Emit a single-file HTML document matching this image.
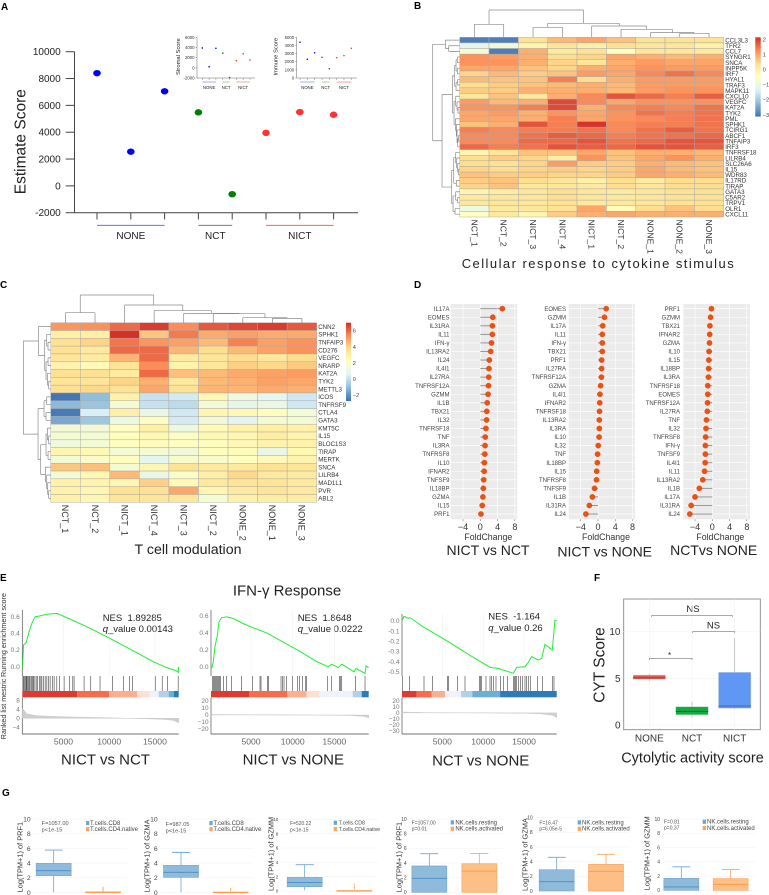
<!DOCTYPE html>
<html lang="en">
<head>
<meta charset="utf-8">
<title>Multi-panel figure</title>
<style>
html,body{margin:0;padding:0;background:#fff;}
#figure{position:absolute;left:0;top:0;width:769px;height:895px;overflow:hidden;font-family:"Liberation Sans",sans-serif;filter:blur(0.35px);}
text{font-family:"Liberation Sans",sans-serif;}
.letter{font-size:10px;font-weight:bold;fill:#000;}
.big{fill:#222;}
</style>
</head>
<body>
<svg id="figure" xmlns="http://www.w3.org/2000/svg" width="769" height="895" viewBox="0 0 769 895">
  <rect x="0" y="0" width="769" height="895" fill="#fff"/>

  <g id="panelA">
    <text class="letter" x="1" y="10">A</text>
    <text class="big" font-size="15.5" text-anchor="middle" transform="translate(25.5 141.7) rotate(-90)">Estimate Score</text>
    <text class="big" font-size="5.8" fill="#333" text-anchor="middle" transform="translate(179.8 56.7) rotate(-90)">Stromal Score</text>
    <text class="big" font-size="5.8" fill="#333" text-anchor="middle" transform="translate(277.5 56.7) rotate(-90)">Immune Score</text>
  </g>

  <g id="panelB">
    <text class="letter" x="414" y="9">B</text>
    <text class="big" font-size="13" text-anchor="middle" x="597.7" y="268" textLength="272">Cellular response to cytokine stimulus</text>
  </g>

  <g id="panelC">
    <text class="letter" x="0" y="288">C</text>
    <text class="big" font-size="14.2" text-anchor="middle" x="188" y="554">T cell modulation</text>
  </g>

  <g id="panelD">
    <text class="letter" x="414" y="288">D</text>
    <text class="big" font-size="14" text-anchor="middle" x="488" y="555">NICT vs NCT</text>
    <text class="big" font-size="14" text-anchor="middle" x="604.7" y="556.7">NICT vs NONE</text>
    <text class="big" font-size="14" text-anchor="middle" x="713.7" y="555">NCTvs NONE</text>
  </g>

  <g id="panelE">
    <text class="letter" x="0" y="581">E</text>
    <text class="big" font-size="15" text-anchor="middle" x="287" y="595.7">IFN-γ Response</text>
    <text font-size="7.2" fill="#333" text-anchor="middle" transform="translate(6 635) rotate(-90)">Running enrichment score</text>
    <text font-size="7.2" fill="#333" text-anchor="middle" transform="translate(6 709) rotate(-90)">Ranked list mestric</text>
    <text class="big" font-size="15" text-anchor="middle" x="105.5" y="764.5">NICT vs NCT</text>
    <text class="big" font-size="15" text-anchor="middle" x="293.3" y="764.5">NICT vs NONE</text>
    <text class="big" font-size="15" text-anchor="middle" x="480.7" y="765.7">NCT vs NONE</text>
    <text class="big" font-size="9.5" x="102.7" y="621" xml:space="preserve">NES  1.89285</text>
    <text class="big" font-size="9.5" x="102.7" y="632"><tspan font-style="italic">q</tspan>_value 0.00143</text>
    <text class="big" font-size="9.5" x="297.7" y="621" xml:space="preserve">NES  1.8648</text>
    <text class="big" font-size="9.5" x="297.7" y="632"><tspan font-style="italic">q</tspan>_value 0.0222</text>
    <text class="big" font-size="9.5" x="488.3" y="619.7" xml:space="preserve">NES  -1.164</text>
    <text class="big" font-size="9.5" x="488.3" y="631"><tspan font-style="italic">q</tspan>_value 0.26</text>
  </g>

  <g id="panelF">
    <text class="letter" x="594" y="581">F</text>
    <text class="big" font-size="15.5" text-anchor="middle" transform="translate(604.5 665) rotate(-90)">CYT Score</text>
    <text class="big" font-size="14.5" text-anchor="middle" x="692.5" y="762.5">Cytolytic activity score</text>
    <text class="big" font-size="9.5" text-anchor="middle" x="693" y="612">NS</text>
    <text class="big" font-size="9.5" text-anchor="middle" x="713.5" y="628.5">NS</text>
    <text class="big" font-size="8" text-anchor="middle" x="669.5" y="658">*</text>
  </g>

  <g id="panelG">
    <text class="letter" x="2" y="796">G</text>
  </g>
</svg>

<script>
/* ---------- Panel A data ---------- */
const estimateValues = [8400, 2550, 7050, 5480, -620, 3950, 5500, 5300];
const stromalValues = [3900, 200, 3850, 2900, -1900, 1400, 2750, 1550];
const immuneValues = [4400, 2300, 3100, 2550, 1150, 2500, 2750, 3650];
const sampleGroups = ['NONE', 'NONE', 'NONE', 'NCT', 'NCT', 'NICT', 'NICT', 'NICT'];
const estimateTicks = [10000, 8000, 6000, 4000, 2000, 0, -2000];
const stromalTicks = [6000, 4000, 2000, 0, -2000];
const immuneTicks = [5000, 4000, 3000, 2000, 1000, 0];
const groupNames = ['NONE', 'NCT', 'NICT'];

/* ---------- Panel B data ---------- */
const bRows = ['CCL3L3','TFR2','CCL7','SYNGR1','SNCA','INPP5K','IRF7','HYAL1','TRAF3','MAPK11','CXCL10','VEGFC','KAT2A','TYK2','PML','SPHK1','TCIRG1','ABCF1','TNFAIP3','IRF3','TNFRSF18','LILRB4','SLC26A6','IL15','WDR83','IL17RD','TIRAP','GATA3','C5AR2','TRPV1','OLR1','CXCL11'];
const bCols = ['NCT_1','NCT_2','NICT_3','NICT_4','NICT_1','NICT_2','NONE_1','NONE_2','NONE_3'];
const bValues = [
[-3,-3,.3,.8,1,.7,.3,.3,.3],
[-1.2,-.9,-.2,.2,-.1,.3,.2,.2,-.1],
[-.8,-3,.9,.1,.3,-.5,.2,.2,.1],
[1.2,1.1,.9,.4,.5,1,.9,.8,.9],
[1.2,1.2,.9,.5,.2,.9,1.1,1,1],
[1,1,.7,.5,.9,1,1.2,1.1,1.1],
[.5,.8,.6,.7,1.1,1,1.3,1.5,1.3],
[.8,.7,.7,1.4,.4,.9,1.1,1.1,1.1],
[.4,.6,.7,.8,.9,.8,1.1,1.1,1.1],
[.6,.6,.9,.9,.9,.8,1.1,1.2,1.2],
[.2,.7,.1,.9,1.3,1.8,1.6,1.4,1.7],
[1.1,.8,.9,1.9,1.3,1,1.2,1.2,1.2],
[1.2,1.2,1.4,1.9,.9,1.3,1.4,1.3,1.5],
[1,1.1,.9,1.2,1,1.2,1.5,1.4,1.5],
[1,1,.9,1.4,1,1.2,1.3,1.4,1.5],
[.7,.9,1.8,1.4,2.1,1.3,1.4,1.4,1.5],
[1.4,1.3,1.4,1.4,1.5,1.3,1.5,1.7,1.5],
[1.3,1.3,1.5,1.7,1.6,1.4,1.5,1.5,1.6],
[1.3,1.3,1.6,1.6,1.8,1.5,1.6,1.8,1.8],
[1.6,1.4,1.5,1.8,1.7,1.6,1.8,1.8,1.7],
[-.2,.2,.7,.7,1,.7,.9,.9,.8],
[.4,.6,.5,0,1.2,.7,1,1.2,.9],
[.4,.3,.5,1.1,.6,.6,.9,.8,.7],
[.5,.4,.5,.6,.5,.6,1,.8,.7],
[.7,.6,.6,.5,.5,.6,1,.9,.8],
[.6,.7,.4,.2,-.1,.4,0,.4,.4],
[.5,.7,.2,.2,.1,.4,.2,.4,.4],
[-.2,0,.2,.4,.2,.1,.2,.3,.3],
[.1,.2,.2,.4,.2,.1,.2,.3,.3],
[.2,.2,.2,.3,.1,.2,.2,.3,.3],
[-1,.1,.2,.3,1,-.4,.4,.7,.4],
[-.5,.1,-.2,.6,.9,1,.9,.9,.9]];
const bScaleTicks = [2, 1, 0, -1, -2, -3];
const bColTree = [82,[39,0,1],[42,[30,2,3],[34,4,[24,5,[14,6,[12,7,8]]]]]];
const bRowTree = [81,[43,0,[33,1,2]],[53,
  [22,[15,[11,[7,3,4],[7,5,6]],[11,[6,7,8],9]],[17,[12,10,[8,11,[5,12,13]]],[13,14,[10,15,[8,16,[6,[4,17,18],19]]]]]],
  [24,[18,[12,20,[9,21,[6,22,[4,23,24]]]],[10,25,26]],[20,[12,27,[6,28,29]],[14,30,31]]]]];

/* ---------- Panel C data ---------- */
const cRows = ['CNN2','SPHK1','TNFAIP3','CD276','VEGFC','NRARP','KAT2A','TYK2','METTL3','ICOS','TNFRSF9','CTLA4','GATA3','KMT5C','IL15','BLOC1S3','TIRAP','MERTK','SNCA','LILRB4','MAD1L1','PVR','ABL2'];
const cCols = ['NCT_1','NCT_2','NICT_1','NICT_4','NICT_3','NICT_2','NONE_2','NONE_1','NONE_3'];
const cValues = [
[5.2,5.3,6,6.8,5.4,6.3,6.6,6.8,6.3],
[3,3,7,4.3,5.7,4.8,5,4.8,4.8],
[3.7,4,5.8,5.2,5,4.5,5.6,5,5.3],
[3.7,3.3,6,6,4.6,3.8,4.5,5,5.3],
[3.5,3.2,4.6,6,3.2,3.5,3.8,3.3,3.8],
[2.7,2.4,3.5,5.4,2.8,3.4,4.1,3.9,4.2],
[3.7,3.7,3.2,6,4.4,4.5,4.8,5,5.1],
[3.5,3.5,4,4.7,3.3,4.5,4.7,5,4.9],
[3.7,3.9,3.6,4.9,3.6,4.6,4.6,4.8,4.7],
[-2.7,-1.1,2.9,0,.3,2.5,1.3,.8,.2],
[-1.2,-.9,1.6,0,-.2,1.5,.9,1.1,.2],
[-2.6,.4,3,1,.2,2.6,2.5,2.2,1.5],
[-1.6,-.8,1.2,2,.3,1.4,.7,1.6,1.5],
[1.4,1.4,2.2,3,1.2,2.4,2.9,3,2.9],
[1.6,1.6,2.2,2.5,2,2.5,2.6,3.1,2.7],
[1.3,1.5,2.2,2.3,2.1,2.2,2.5,2.8,2.8],
[2.6,2.5,1.5,1.6,1.4,2.2,2.3,1,2.5],
[1.5,1.8,2.2,.8,1.8,1.8,2.1,2.4,2.7],
[4.3,4.4,1.6,2.6,3.6,3.3,3.3,3.7,3.5],
[1.5,2.5,4.5,1,1.9,3,3.9,3.3,3.2],
[2.8,2.7,2.6,4.1,2.4,3.3,3.5,3.5,3.3],
[2.9,2.6,3.7,3.7,4.9,2.6,3.2,3.5,3.3],
[2.9,2.6,3.5,3.5,3.4,1.6,2.9,3.1,3.1]];
const cScaleTicks = [6, 4, 2, 0, -2];
const cColTree = [83,[30,0,1],[53,2,[36,3,[28,4,[27,5,[15,6,[13,7,8]]]]]]];
const cRowTree = [82,[37,0,[18,[12,1,[8,2,3]],[14,[8,4,5],[10,6,[6,7,8]]]]],[38,[20,[12,9,10],[14,11,12]],[30,[14,[10,13,[6,14,15]],[8,16,17]],[16,18,[12,19,[9,20,[6,21,22]]]]]]];

/* ---------- Panel D data ---------- */
const dGenes1 = ['IL17A','EOMES','IL31RA','IL11','IFN-γ','IL13RA2','IL24','IL4I1','IL27RA','TNFRSF12A','GZMM','IL1B','TBX21','IL32','TNFRSF18','TNF','IL3RA','TNFRSF8','IL10','IFNAR2','TNFSF9','IL18BP','GZMA','IL15','PRF1'];
const dFold1 = [5.1,2.9,2.8,2.8,2.6,2.4,2.1,2,1.95,1.9,1.8,1.6,1.5,1.45,1.3,1.15,1.1,1.05,.95,.9,.8,.7,.6,.45,.15];
const dGenes2 = ['EOMES','GZMM','IL17A','IL11','IFN-γ','TBX21','PRF1','IL27RA','TNFRSF12A','GZMA','IL4I1','IFNAR2','TNFRSF18','IL13RA2','IL3RA','IL10','IL32','TNF','IL18BP','IL15','TNFRSF8','TNFSF9','IL1B','IL31RA','IL24'];
const dFold2 = [1.9,1.5,1.1,1,1,1,.85,.85,.8,.6,.45,.4,.35,.3,.3,.25,.05,-.1,-.15,-.3,-.35,-.8,-1.3,-2,-2.8];
const dGenes3 = ['PRF1','GZMM','TBX21','IFNAR2','GZMA','IL10','IL15','IL18BP','IL3RA','TNFRSF18','EOMES','TNFRSF12A','IL27RA','TNF','IL32','TNFRSF8','IFN-γ','TNFSF9','IL4I1','IL11','IL13RA2','IL1B','IL17A','IL31RA','IL24'];
const dFold3 = [-.2,-.4,-.55,-.6,-.65,-.75,-.8,-.85,-.9,-1.05,-1.05,-1.1,-1.15,-1.35,-1.45,-1.55,-1.6,-1.6,-1.65,-1.8,-2.2,-3,-4,-4.9,-5.2];
const dTicks = [-4, 0, 4, 8];

/* ---------- Panel E data ---------- */
const es1Ranks = [527,636,927,1290,1618,1909,2454,3181,4272,5545,7545,9727,12636,14818,16272,17363,17560,17600];
const es1Values = [0,.26,.29,.44,.54,.6,.61,.63,.64,.58,.48,.36,.19,.06,-.01,-.05,-.07,0];
const es1Hits = [564,636,709,818,927,1000,1109,1218,1290,1436,1545,1654,1727,1872,2018,2163,2381,2527,2636,2818,3000,3181,3363,3545,3800,3981,4272,4563,5072,5654,6018,6163,7254,7981,9000,10381,11545,12200,12563,15036,15800,16381,17545];
const es1MetricRanks = [500,1000,2000,3500,6000,10000,14000,16000,17000,17600];
const es1Metric = [4.5,2,1.2,.9,.6,.25,-.2,-.5,-.9,-2];
const es2Ranks = [280,480,680,960,1160,1480,2080,2880,4080,5280,6880,8880,10880,12880,14280,14680,15480,15880,17360,17600,18680,18800,19120];
const es2Values = [-.02,.06,.24,.37,.53,.58,.59,.57,.51,.46,.4,.29,.18,.06,0,.03,-.01,.03,-.06,-.02,-.08,.01,-.01];
const es2Hits = [360,480,600,720,840,960,1080,1200,1360,1680,2080,2680,3880,5160,6080,6200,6960,7120,8600,8800,8960,9280,10000,10600,10800,11160,11560,11680,14200,14680,15600,15760,15880,17520,18680];
const es2MetricRanks = [200,3000,10000,15000,17000,18500,19120];
const es2Metric = [.8,.5,.1,-.3,-.8,-2,-4];
const es3Ranks = [102,306,836,1040,2672,5528,7976,10833,11853,13688,14096,15116,15524,15932,16748,17156,17564,18462,18666,18788,19000];
const es3Values = [.01,.046,.026,.033,-.059,-.194,-.319,-.457,-.467,-.516,-.457,-.451,-.408,-.352,-.385,-.368,-.23,-.286,-.099,.01,0];
const es3Hits = [102,959,2754,3815,5651,5773,6875,7772,9527,9690,9812,10343,10833,11037,11241,11567,12138,12464,12954,13688,13811,13933,14096,14300,14586,14830,15116,15320,15524,15769,16626,17279,18462,18666];
const es3MetricRanks = [60,3000,10000,15000,17000,18500,19000];
const es3Metric = [1.5,.5,-.1,-.7,-1.5,-4,-8];
const esRankTicks = [5000, 10000, 15000];
const es1Ticks = [.6,.4,.2,0];
const es2Ticks = [.6,.4,.2,0];
const es3Ticks = [0,-.1,-.2,-.3,-.4,-.5];
const metric1Ticks = [8,4,0,-4];
const metric2Ticks = [20,10,0,-10,-20];
const metric3Ticks = [20,10,0,-10,-20,-30];
const strip1Ends = [6500,10000,13050,14430,15420,16510,17060,17600];
const strip2Ends = [4800,9360,11680,13200,17200,18280,19120];
const strip3Ends = [1860,3700,5330,7290,8680,12070,19000];
const strip1Colors = ['#df3a30','#fb6a4a','#fcae91','#fee0d2','#eef3fb','#b4d0e6','#6baed6','#2b7bba'];
const strip2Colors = ['#df3a30','#fb6a4a','#fcae91','#fee0d2','#eef3fb','#b4d0e6','#2b7bba'];
const strip3Colors = ['#df3a30','#fb6a4a','#fcae91','#eef3fb','#b4d0e6','#6baed6','#2b7bba'];

/* ---------- Panel F data ---------- */
const cytGroups = ['NONE','NCT','NICT'];
const cytLow = [4.7,.8,1.7];
const cytQ1 = [4.9,1.1,1.79];
const cytMedian = [5.07,1.46,2.04];
const cytQ3 = [5.35,1.96,5.64];
const cytHigh = [5.5,2.5,9.3];
const cytTicks = [10, 5, 0];

/* ---------- Panel G data (low, q1, median, q3, high) ---------- */
const gTicks = [10, 8, 6, 4, 2, 0];
const gPrf1Tcell = [[0,2.27,2.95,3.95,5.77],[0,0,0,.07,.07]];
const gGzmaTcell = [[0,2.05,2.73,3.68,5.45],[0,0,0,.04,.04]];
const gGzmmTcell = [[.1,.6,1.2,1.9,3.67],[0,0,0,.07,.07]];
const gPrf1Nk = [[0,0,1.91,3.6,5.27],[0,0,2.9,3.9,5.3]];
const gGzmaNk = [[0,0,1.27,2.9,4.6],[0,0,2.68,3.64,5]];
const gGzmmNk = [[0,0,.47,1.68,3.3],[0,0,.84,1.64,2.93]];
const gPrf1Outliers = [.2,.35,.5,.7];
const gGzmaOutliers = [.2,.35,.5];
const gGzmmOutliers = [.3,.5,.7,.95];

/* ---------- helpers ---------- */
const SVGNS = 'http://www.w3.org/2000/svg';
function el(tag, attrs, parent) {
  const e = document.createElementNS(SVGNS, tag);
  for (const k in attrs) e.setAttribute(k, attrs[k]);
  parent.appendChild(e);
  return e;
}
function tx(parent, x, y, s, size, anchor, fill) {
  const e = el('text', {x: x, y: y, 'font-size': size, 'text-anchor': anchor || 'start', fill: fill || '#333'}, parent);
  e.textContent = s;
  return e;
}
function seg(parent, x1, y1, x2, y2, stroke, w) {
  return el('line', {x1: x1, y1: y1, x2: x2, y2: y2, stroke: stroke, 'stroke-width': w}, parent);
}
function linear(d0, d1, r0, r1) { return v => r0 + (v - d0) * (r1 - r0) / (d1 - d0); }
const PALETTE = [[69,117,180],[145,191,219],[224,243,248],[255,255,191],[254,224,144],[252,141,89],[215,48,39]];
function colorAt(t) {
  t = Math.max(0, Math.min(1, t)) * (PALETTE.length - 1);
  const i = Math.min(PALETTE.length - 2, Math.floor(t)), f = t - i;
  const c = PALETTE[i].map((a, k) => Math.round(a + (PALETTE[i + 1][k] - a) * f));
  return 'rgb(' + c.join(',') + ')';
}

/* dendrogram: tree = [height, left, right], leaf = index */
function dendroPath(tree, pos, h) {
  let d = '';
  function walk(n) {
    if (typeof n === 'number') return {p: pos(n), c: h(0)};
    const a = walk(n[1]), b = walk(n[2]), lev = h(n[0]);
    d += h.seg(a.p, a.c, lev) + h.seg(b.p, b.c, lev) + h.cross(a.p, b.p, lev);
    return {p: (a.p + b.p) / 2, c: lev};
  }
  walk(tree);
  return d;
}

function heatmap(parent, prefix, rows, cols, matrix, box, vmin, vmax, scaleBox, scaleTicks, labelSize, colLabelSize, colTree, rowTree, scaleLabelX) {
  const cw = (box.x1 - box.x0) / cols.length, rh = (box.y1 - box.y0) / rows.length;
  const color = v => colorAt((v - vmin) / (vmax - vmin));
  matrix.forEach((row, r) => row.forEach((v, c) => {
    const cell = el('rect', {x: box.x0 + c * cw, y: box.y0 + r * rh, width: cw, height: rh, fill: color(v), stroke: '#a8a8a8', 'stroke-width': .45}, parent);
    
    
  }));
  rows.forEach((name, r) => {
    const t = tx(parent, box.x1 + 1.5, box.y0 + (r + .5) * rh + labelSize * .36, name, labelSize, 'start', '#333');
    
    
  });
  cols.forEach((name, c) => {
    const cx = box.x0 + (c + .5) * cw - colLabelSize * .36, cy = box.y1 + 2.5;
    const t = tx(parent, cx, cy, name, colLabelSize, 'start', '#333');
    t.setAttribute('transform', 'rotate(90 ' + cx + ' ' + cy + ')');
    
    
  });
  const topH = v => box.y0 - v / 3;
  topH.seg = (p, a, b) => 'M' + p + ' ' + a + 'V' + b;
  topH.cross = (a, b, l) => 'M' + a + ' ' + l + 'H' + b;
  const topD = el('path', {d: dendroPath(colTree, i => box.x0 + (i + .5) * cw, topH), fill: 'none', stroke: '#8a8a8a', 'stroke-width': .7}, parent);
  
  
  const leftH = v => box.x0 - v / 3;
  leftH.seg = (p, a, b) => 'M' + a + ' ' + p + 'H' + b;
  leftH.cross = (a, b, l) => 'M' + l + ' ' + a + 'V' + b;
  const leftD = el('path', {d: dendroPath(rowTree, i => box.y0 + (i + .5) * rh, leftH), fill: 'none', stroke: '#8a8a8a', 'stroke-width': .7}, parent);
  
  
  const N = 60, sh = (scaleBox.y1 - scaleBox.y0) / N;
  for (let i = 0; i < N; i++) {
    const s = el('rect', {x: scaleBox.x0, y: scaleBox.y0 + i * sh, width: scaleBox.x1 - scaleBox.x0, height: sh + .3, fill: colorAt(1 - i / (N - 1))}, parent);
    
    
  }
  const sy = linear(vmax, vmin, scaleBox.y0, scaleBox.y1);
  scaleTicks.forEach(v => {
    const t = tx(parent, scaleLabelX, sy(v) + 2, String(v).replace('-', '−'), 5.6, 'start', '#444');
    
    
  });
}

/* ---------- Panel A ---------- */
const gA = document.getElementById('panelA');
const groupColor = {NONE: '#0000ff', NCT: '#008000', NICT: '#ff3333'};

const aX = i => 97 + i * 33.8;
const aY = linear(10000, -2000, 51.7, 212.7);
const aAxisY = seg(gA, 74.5, 51.7, 74.5, 212.7, '#444', 1);


const aAxisX = seg(gA, 74.5, 212.7, 358, 212.7, '#444', 1);


estimateTicks.forEach(v => {
  const tick = seg(gA, 65.7, aY(v), 74.5, aY(v), '#444', 1);
  
  
  const t = tx(gA, 60.7, aY(v) + 3.5, String(v), 10, 'end', '#222');
  
  
});
estimateValues.forEach((v, i) => {
  const tick = seg(gA, aX(i), 212.7, aX(i), 219.5, '#444', 1);
  
  
  const dot = el('ellipse', {cx: aX(i), cy: aY(v), rx: 3.8, ry: 3.2, fill: groupColor[sampleGroups[i]]}, gA);
  
  
});
function groupSpans(xf, lineY, labelY, size, width) {
  groupNames.forEach(name => {
    const idx = sampleGroups.map((g, i) => g === name ? i : -1).filter(i => i >= 0);
    const x0 = xf(idx[0]), x1 = xf(idx[idx.length - 1]);
    const stroke = name === 'NONE' ? '#4a5cff' : name === 'NCT' ? (size > 6 ? '#666' : '#55aa55') : '#ff4444';
    const l = seg(gA, x0, lineY, x1, lineY, stroke, width);
    
    
    const t = tx(gA, (x0 + x1) / 2, labelY, name, size, 'middle', '#222');
    
    
  });
}
groupSpans(aX, 225.3, 239, 10, .9);

function inset(axisX, xf, yf, values, ticks, endX) {
  const ya = seg(gA, axisX, 37.3, axisX, 78, '#666', .5);
  
  
  const xa = seg(gA, axisX, 78, endX, 78, '#666', .5);
  
  
  ticks.forEach(v => {
    const tick = seg(gA, axisX - 1.5, yf(v), axisX, yf(v), '#666', .4);
    
    
    const t = tx(gA, axisX - 2.5, yf(v) + 1.5, String(v), 4.3, 'end', '#333');
    
    
  });
  values.forEach((v, i) => {
    const tick = seg(gA, xf(i), 78, xf(i), 80, '#666', .4);
    
    
    const dot = el('circle', {cx: xf(i), cy: yf(v), r: .8, fill: groupColor[sampleGroups[i]]}, gA);
    
    
  });
  groupSpans(xf, 82, 89, 4.3, .5);
}
inset(197, i => 202.3 + i * 6.81, linear(6000, -2000, 37.3, 78), stromalValues, stromalTicks, 255);
inset(296.7, i => 300 + i * 7.33, linear(5000, 0, 37.3, 78), immuneValues, immuneTicks, 357);

/* ---------- Panels B and C ---------- */
heatmap(document.getElementById('panelB'), 'b', bRows, bCols, bValues, {x0: 459.7, x1: 723.7, y0: 37.3, y1: 217}, -3.1, 2.13,
  {x0: 755.3, x1: 760.7, y0: 37.3, y1: 116.3}, bScaleTicks, 6.2, 8.6, bColTree, bRowTree, 762.7);
heatmap(document.getElementById('panelC'), 'c', cRows, cCols, cValues, {x0: 50.7, x1: 316.7, y0: 322.7, y1: 502.3}, -2.7, 7,
  {x0: 346, x1: 351, y0: 322.7, y1: 400.7}, cScaleTicks, 6.2, 9, cColTree, cRowTree, 352.7);

/* ---------- Panel D ---------- */
const gD = document.getElementById('panelD');
function lollipop(genes, fold, bgX0, bgX1, zeroX, labelRight) {
  const bg = el('rect', {x: bgX0, y: 304, width: bgX1 - bgX0, height: 215.3, fill: '#ebebeb'}, gD);
  
  
  const x = v => zeroX + v * 4.32;
  const y = i => 308.7 + i * 8.555;
  dTicks.forEach(v => {
    const g = seg(gD, x(v), 304, x(v), 519.3, '#fff', .6);
    
    
    const tick = seg(gD, x(v), 519.3, x(v), 521, '#555', .5);
    
    
    const t = tx(gD, x(v), 530, String(v).replace('-', '−'), 9, 'middle', '#333');
    
    
  });
  const axisTitle = tx(gD, zeroX + 8, 540, 'FoldChange', 8.8, 'middle', '#333');
  
  
  genes.forEach((g, i) => {
    const grid = seg(gD, bgX0, y(i), bgX1, y(i), '#fff', .6);
    
    
    const t = tx(gD, labelRight, y(i) + 2.1, g, 6, 'end', '#444');
    
    
    const stem = seg(gD, x(0), y(i), x(fold[i]), y(i), '#8c8c8c', .9);
    
    
    const dot = el('circle', {cx: x(fold[i]), cy: y(i), r: 2.7, fill: '#f0500f', stroke: '#c8480f', 'stroke-width': .3}, gD);
    
    
  });
}
lollipop(dGenes1, dFold1, 450.7, 517.3, 480.3, 449.5);
lollipop(dGenes2, dFold2, 568.7, 635, 598, 566);
lollipop(dGenes3, dFold3, 683.3, 750, 712.3, 680);

/* ---------- Panel E ---------- */
const gE = document.getElementById('panelE');
function gsea(cfg) {
  const x = linear(cfg.domain[0], cfg.domain[1], cfg.x0, cfg.x1);
  const yEs = linear(cfg.esRef[0], cfg.esRef[1], cfg.esPx[0], cfg.esPx[1]);
  const yM = linear(cfg.mRef[0], cfg.mRef[1], cfg.mPx[0], cfg.mPx[1]);
  cfg.rankTicks.forEach(v => {
    const grid = seg(gE, x(v), cfg.topY, x(v), 676, '#eee', .5);
    
    
    const t = tx(gE, x(v), 744.5, String(v), 8.6, 'middle', '#666');
    
    
  });
  const axU = seg(gE, cfg.x0, cfg.topY, cfg.x0, 676, '#555', .7);
  
  
  const axL = seg(gE, cfg.x0, 697.5, cfg.x0, 734, '#555', .7);
  
  
  const axB = seg(gE, cfg.x0, 734, cfg.x1, 734, '#444', .8);
  
  
  cfg.esTicks.forEach(v => {
    const t = tx(gE, cfg.x0 - 2.5, yEs(v) + 2.2, v.toFixed(1), 6.6, 'end', '#777');
    
    
  });
  cfg.mTicks.forEach(v => {
    const t = tx(gE, cfg.x0 - 2.5, yM(v) + 2.2, String(v).replace('-', '−'), 6.4, 'end', '#777');
    
    
  });
  const line = el('polyline', {points: cfg.ranks.map((r, i) => x(r).toFixed(2) + ',' + yEs(cfg.values[i]).toFixed(2)).join(' '), fill: 'none', stroke: '#22ee33', 'stroke-width': 1}, gE);
  
  
  cfg.hits.forEach(r => {
    const h = seg(gE, x(r), 676, x(r), 691, '#222', .65);
    h.setAttribute('stroke-opacity', '.8');
    
    
  });
  let prev = cfg.domain[0];
  cfg.stripEnds.forEach((end, i) => {
    const s = el('rect', {x: x(prev), y: 691, width: x(end) - x(prev), height: 6.3, fill: cfg.stripColors[i]}, gE);
    
    
    prev = end;
  });
  const pts = cfg.mRanks.map((r, i) => x(r).toFixed(2) + ' ' + yM(cfg.metric[i]).toFixed(2));
  const area = el('path', {d: 'M' + x(cfg.mRanks[0]) + ' ' + yM(0) + 'L' + pts.join('L') + 'L' + x(cfg.mRanks[cfg.mRanks.length - 1]) + ' ' + yM(0) + 'Z', fill: '#cfcfcf', stroke: '#c4c4c4', 'stroke-width': .4}, gE);
  
  
}
gsea({x0: 22.3, x1: 178.7, topY: 610, domain: [500, 17600], esRef: [.6, 0], esPx: [616.7, 666.7], mRef: [8, -4], mPx: [700.3, 727.3],
  rankTicks: esRankTicks, esTicks: es1Ticks, mTicks: metric1Ticks, ranks: es1Ranks, values: es1Values, hits: es1Hits, stripEnds: strip1Ends, stripColors: strip1Colors, mRanks: es1MetricRanks, metric: es1Metric});
gsea({x0: 211, x1: 368.7, topY: 610, domain: [200, 19120], esRef: [.6, 0], esPx: [616, 666.7], mRef: [20, -20], mPx: [701, 729],
  rankTicks: esRankTicks, esTicks: es2Ticks, mTicks: metric2Ticks, ranks: es2Ranks, values: es2Values, hits: es2Hits, stripEnds: strip2Ends, stripColors: strip2Colors, mRanks: es2MetricRanks, metric: es2Metric});
gsea({x0: 402, x1: 556.7, topY: 614, domain: [60, 19000], esRef: [0, -.5], esPx: [621, 671.7], mRef: [20, -30], mPx: [701, 730.7],
  rankTicks: esRankTicks, esTicks: es3Ticks, mTicks: metric3Ticks, ranks: es3Ranks, values: es3Values, hits: es3Hits, stripEnds: strip3Ends, stripColors: strip3Colors, mRanks: es3MetricRanks, metric: es3Metric});

/* ---------- Panel F ---------- */
const gF = document.getElementById('panelF');
const fFrame = el('rect', {x: 623.7, y: 599, width: 136.6, height: 130.7, fill: 'none', stroke: '#888', 'stroke-width': .9}, gF);


const fY = linear(0, 10, 725, 631.7);
const fX = i => 649.3 + i * 42.7;
const fColors = ['#d9605a', '#0cb040', '#5f97f5'];
const fMed = ['#a5403c', '#0a5c25', '#3c68ba'];
cytTicks.forEach(v => {
  const g = seg(gF, 623.7, fY(v), 760.3, fY(v), '#f0f0f0', .5);
  
  
  const t = tx(gF, 620.5, fY(v) + 3.5, String(v), 10, 'end', '#333');
  
  
});
cytGroups.forEach((name, i) => {
  const g = seg(gF, fX(i), 599, fX(i), 729.7, '#f0f0f0', .5);
  
  
  const w = seg(gF, fX(i), fY(cytHigh[i]), fX(i), fY(cytLow[i]), '#aaa', .7);
  
  
  const b = el('rect', {x: fX(i) - 16.2, y: fY(cytQ3[i]), width: 32.4, height: fY(cytQ1[i]) - fY(cytQ3[i]), fill: fColors[i], stroke: '#ccc', 'stroke-width': .4}, gF);
  
  
  const m = seg(gF, fX(i) - 16.2, fY(cytMedian[i]), fX(i) + 16.2, fY(cytMedian[i]), fMed[i], 1);
  
  
  const t = tx(gF, fX(i), 741.5, name, 10, 'middle', '#333');
  
  
});
const fBr1 = el('path', {d: 'M651.5 617V615.7H732.5V617', fill: 'none', stroke: '#777', 'stroke-width': .6}, gF);


const fBr2 = el('path', {d: 'M692.7 633V631.7H734.7V633', fill: 'none', stroke: '#777', 'stroke-width': .6}, gF);


const fBr3 = el('path', {d: 'M649.3 660V658.3H692V660', fill: 'none', stroke: '#777', 'stroke-width': .6}, gF);



/* ---------- Panel G ---------- */
const gG = document.getElementById('panelG');
const gLayouts = [
 {z: 0, right: 92, grid: [100, 380], cx: [161, 309], y0: 352, unit: 22, yl: 60, gene: 'PRF1', f: 'F=1057.00', p: 'p<1e-15', fx: 125, fy: [150, 170], lx: 258, ltx: 270, ly: [150, 168], leg: ['T.cells.CD8', 'T.cells.CD4.native'], box: gPrf1Tcell, out: gPrf1Outliers, tick: 6.8, fs: 5.6, ls: 6},
 {z: 0, right: 473, grid: [480, 760], cx: [543, 692], y0: 352, unit: 22, yl: 440, gene: 'GZMA', f: 'F=987.05', p: 'p<1e-15', fx: 497, fy: [153, 172], lx: 628, ltx: 640, ly: [150, 168], leg: ['T.cells.CD8', 'T.cells.CD4.native'], box: gGzmaTcell, out: gGzmaOutliers, tick: 6.8, fs: 5.6, ls: 6},
 {z: 0, right: 835, grid: [845, 1135], cx: [914, 1063], y0: 348, unit: 21.5, yl: 812, gene: 'GZMM', f: 'F=520.22', p: 'p<1e-15', fx: 870, fy: [150, 169], lx: 1001, ltx: 1016, ly: [149, 168], leg: ['T.cells.CD8', 'T.cells.CD4.native'], box: gGzmmTcell, out: gGzmmOutliers, tick: 4.6, fs: 5, ls: 5.2},
 {z: 1155, right: 65, grid: [72, 355], cx: [133, 283], y0: 352, unit: 22, yl: 42, gene: 'PRF1', f: 'F=1057.00', p: 'p=0.01', fx: 80, fy: [148, 166], lx: 197, ltx: 211, ly: [148, 167], leg: ['NK.cells.resting', 'NK.cells.activated'], box: gPrf1Nk, out: [], tick: 5, fs: 5, ls: 6},
 {z: 1155, right: 443, grid: [452, 735], cx: [515, 663], y0: 348, unit: 22, yl: 420, gene: 'GZMA', f: 'F=16.47', p: 'p=6.05e-5', fx: 463, fy: [148, 166], lx: 578, ltx: 591, ly: [148, 167], leg: ['NK.cells.resting', 'NK.cells.activated'], box: gGzmaNk, out: [], tick: 5, fs: 5, ls: 6},
 {z: 1155, right: 825, grid: [830, 1110], cx: [889, 1037], y0: 346, unit: 21.4, yl: 785, gene: 'GZMM', f: 'F=0.81', p: 'p=0.37', fx: 837, fy: [145, 163], lx: 953, ltx: 966, ly: [146, 165], leg: ['NK.cells.resting', 'NK.cells.activated'], box: gGzmmNk, out: [], tick: 5, fs: 5, ls: 6}
];
const gFill = ['#8fbada', '#fdbf85'];
const gEdge = ['#6ea6d2', '#fba65a'];
const gMed = ['#4a8cc4', '#f79a45'];
gLayouts.forEach(L => {
  const px = z => (z + L.z) / 3;
  const py = z => 775 + z / 3;
  const y = linear(0, 1, py(L.y0), py(L.y0 - L.unit));
  gTicks.forEach(v => {
    const grid = seg(gG, px(L.grid[0]), y(v), px(L.grid[1]), y(v), '#f0f0f0', .5);
    
    
    const t = tx(gG, px(L.right), y(v) + L.tick * .36, String(v), L.tick, 'end', '#444');
    
    
  });
  const cyEnd = y(0), ylx = px(L.yl);
  const yl = tx(gG, 0, 0, 'Log(TPM+1) of  ' + L.gene, 7.4, 'start', '#333');
  yl.setAttribute('xml:space', 'preserve');
  yl.setAttribute('transform', 'translate(' + (ylx + 2.6) + ' ' + cyEnd + ') rotate(-90)');
  
  
  const f = tx(gG, px(L.fx), py(L.fy[0]), L.f, L.fs, 'start', '#555');
  
  
  const p = tx(gG, px(L.fx), py(L.fy[1]), L.p, L.fs, 'start', '#555');
  
  
  L.leg.forEach((name, k) => {
    const sw = el('rect', {x: px(L.lx), y: py(L.ly[k]) - 4, width: 3.3, height: 4.2, fill: k === 0 ? '#6ea6d2' : '#fba65a'}, gG);
    
    
    const t = tx(gG, px(L.ltx), py(L.ly[k]), name, L.ls, 'start', '#444');
    
    
  });
  L.box.forEach((s, k) => {
    const cx = px(L.cx[k]), hw = 17.5;
    const w = seg(gG, cx, y(s[4]), cx, y(s[0]), gEdge[k], .8);
    
    
    if (s[4] > .2) {
      const cap = seg(gG, cx - 9, y(s[4]), cx + 9, y(s[4]), gEdge[k], .9);
      
      
    }
    const b = el('rect', {x: cx - hw, y: y(s[3]), width: hw * 2, height: Math.max(.8, y(s[1]) - y(s[3])), fill: gFill[k], stroke: gEdge[k], 'stroke-width': .6}, gG);
    
    
    const m = seg(gG, cx - hw, y(s[2]), cx + hw, y(s[2]), gMed[k], .9);
    
    
  });
  L.out.forEach(v => {
    const o = el('circle', {cx: px(L.cx[1]), cy: y(v), r: .55, fill: '#f58a2a'}, gG);
    
    
  });
});
</script>
</body>
</html>
